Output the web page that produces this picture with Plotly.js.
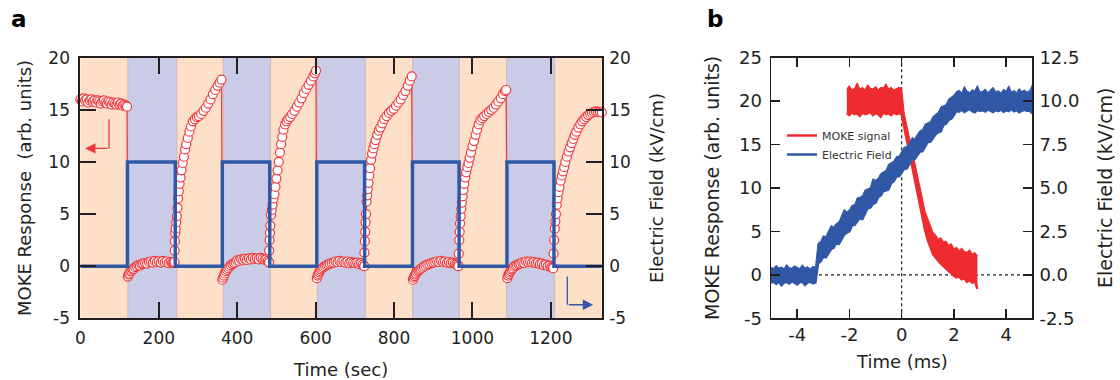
<!DOCTYPE html>
<html>
<head>
<meta charset="utf-8">
<script src="https://cdn.plot.ly/plotly-3.0.1.min.js"></script>
<style>
  html, body { margin: 0; padding: 0; background: #ffffff; }
  #chart { width: 1120px; height: 380px; }
</style>
</head>
<body>
<div id="chart"></div>
<script>
// ---------------- Panel a : MOKE response (left axis) ----------------
const flatTime = [0,4,8,12,16,20,24,28,32,36,40,44,48,52,56,60,64,68,72,76,80,84,88,92,96,100,104,108,112,116,119];
const flatMoke = [16.0,15.8,16.1,15.9,16.0,15.7,15.9,16.0,15.8,15.9,15.7,15.9,15.8,15.6,15.8,15.9,15.7,15.6,15.8,15.7,15.5,15.7,15.6,15.5,15.7,15.5,15.6,15.4,15.5,15.4,15.3];

const dip1Time = [121,123,125,127,130,133,136,140,144,148,152,156,160,165,170,175,180,185,190,195,200,205,210,215,220,225,230,234,237,239];
const dip1Moke = [-1.0,-0.8,-0.7,-0.5,-0.45,-0.3,-0.25,-0.1,0.0,0.1,0.05,0.2,0.25,0.3,0.25,0.4,0.45,0.35,0.5,0.4,0.45,0.35,0.5,0.4,0.45,0.3,0.4,0.35,0.3,0.37];
const rise1Time = [240,240.5,241,242,243,244.5,246,247.5,249,251,253,255.5,258,261,264,267,270,274,278,282,287,292,297,302,308,314,320,326,332,338,344,350,355,360];
const rise1Moke = [0.4,1.5,2.4,3.2,3.6,4.2,4.8,5.6,6.5,7.2,7.9,8.5,9.2,9.9,10.5,11.2,11.7,12.3,12.9,13.4,13.9,14.1,14.3,14.4,14.6,14.9,15.2,15.6,16.0,16.5,16.9,17.3,17.6,17.9];

const dip2Time = [362,364,366,368,371,374,377,380,384,388,392,396,400,405,410,415,420,425,430,435,440,445,450,455,460,465,470,474,478,481];
const dip2Moke = [-1.3,-1.1,-0.9,-0.7,-0.5,-0.35,-0.2,-0.05,0.1,0.2,0.3,0.4,0.55,0.5,0.65,0.6,0.7,0.6,0.75,0.65,0.8,0.7,0.75,0.65,0.8,0.7,0.6,0.65,0.5,0.37];
const rise2Time = [481,481.5,482.5,483.5,484.5,486,488,490,492.5,495,497.5,500,503,506,509,512,515,518,522,526,530,535,540,546,552,558,564,570,576,582,588,594,598,601];
const rise2Moke = [0.37,1.5,2.5,3.2,3.9,4.9,5.4,5.9,6.5,6.9,7.6,8.4,9.2,10.0,10.9,11.7,12.4,13.1,13.6,13.9,14.1,14.3,14.6,14.9,15.3,15.7,16.1,16.6,17.0,17.4,17.8,18.2,18.5,18.75];

const dip3Time = [603,605,607,609,611,614,617,620,624,628,632,636,641,646,651,656,661,666,671,676,681,686,691,696,701,706,711,716,720,724];
const dip3Moke = [-1.15,-0.9,-0.75,-0.6,-0.45,-0.3,-0.2,-0.1,0.0,0.1,0.15,0.25,0.3,0.35,0.45,0.4,0.5,0.4,0.45,0.35,0.45,0.3,0.4,0.35,0.3,0.35,0.2,0.3,0.15,0.0];
const rise3Time = [724,724.5,725.5,726.5,727.5,728.5,730,731.5,733,735,737,739,741.5,744,747,750,753,757,761,765,770,775,781,787,793,799,805,811,817,823,829,835,840,845];
const rise3Moke = [0.0,1.3,2.4,3.3,4.2,5.0,6.2,6.8,7.4,8.0,8.7,9.4,10.2,10.8,11.3,11.7,12.1,12.6,13.0,13.3,13.7,14.1,14.4,14.7,14.9,15.1,15.4,15.7,16.0,16.4,16.8,17.3,17.8,18.2];

const dip4Time = [848,850,852,854,856,859,862,865,868,872,876,880,885,890,895,900,905,910,915,920,925,930,935,940,945,950,955,959,962,964];
const dip4Moke = [-1.3,-1.1,-0.95,-0.8,-0.7,-0.55,-0.45,-0.35,-0.25,-0.15,-0.05,0.05,0.15,0.2,0.3,0.35,0.4,0.45,0.4,0.5,0.4,0.45,0.35,0.4,0.3,0.35,0.25,0.2,0.15,0.0];
const rise4Time = [964,965,966.5,967.5,968.5,970,971.5,973,975,977,979,981.5,984,987,990,993,996,1000,1004,1008,1012,1016,1020,1025,1030,1036,1042,1048,1054,1060,1066,1072,1078,1083,1086];
const rise4Moke = [0.0,1.2,2.5,3.3,4.1,4.8,5.5,6.1,6.7,7.3,7.9,8.5,9.0,9.5,9.9,10.4,10.9,11.5,12.0,12.6,13.1,13.6,14.0,14.2,14.4,14.6,14.8,15.0,15.2,15.5,15.8,16.1,16.5,16.8,16.9];

const dip5Time = [1089,1091,1093,1095,1097,1100,1103,1106,1110,1114,1118,1122,1127,1132,1137,1142,1147,1152,1157,1162,1167,1172,1177,1182,1187,1192,1197,1201,1204,1206];
const dip5Moke = [-1.15,-0.9,-0.75,-0.6,-0.45,-0.3,-0.2,-0.05,0.05,0.1,0.2,0.25,0.35,0.3,0.45,0.4,0.45,0.35,0.4,0.3,0.35,0.2,0.25,0.1,0.15,0.0,0.05,-0.1,-0.15,-0.2];
const rise5Time = [1206,1207,1208.5,1210,1211.5,1213,1215,1217,1219.5,1222,1225,1228,1231,1234,1237,1241,1245,1249,1253,1257,1261,1265,1270,1275,1280,1285,1290,1295,1300,1305,1310,1315,1320,1325,1330];
const rise5Moke = [-0.2,1.2,2.5,3.6,4.3,5.0,5.9,6.5,7.1,7.6,8.2,8.7,9.1,9.5,10.0,10.5,11.0,11.4,11.8,12.2,12.6,12.9,13.3,13.6,13.9,14.1,14.3,14.5,14.6,14.7,14.8,14.85,14.8,14.8,14.75];

// ---------------- Panel a : electric field square wave (right axis) ----------------
const fieldStepTime  = [0,120,242,362,483,603,725,847,966,1088,1208,1330];
const fieldStepValue = [0,10,0,10,0,10,0,10,0,10,0,0];

// field-on (lavender) background periods
const shadeStart = [121,364,604,847,1087];
const shadeEnd   = [246,485,727,967,1210];

// ---------------- Panel b : time traces (noise envelopes) ----------------
const redTime = [-2.1,-2.0,-1.9,-1.8,-1.7,-1.6,-1.5,-1.4,-1.3,-1.2,-1.1,-1.0,-0.9,-0.8,-0.7,-0.6,-0.5,-0.4,-0.3,-0.2,-0.1,
  0.0,0.1,0.2,0.3,0.4,0.5,0.6,0.7,0.8,0.9,1.0,1.1,1.2,1.3,1.4,1.5,1.6,1.7,1.8,1.9,2.0,2.1,2.2,2.3,2.4,2.5,2.6,2.7,2.8,2.9];
const redHigh = [21.4,21.8,21.3,21.5,22.1,21.4,21.6,21.3,21.9,21.5,21.4,21.7,21.3,21.6,21.5,22.0,21.4,21.6,21.3,21.5,21.6,
  21.5,18.6,17.2,15.8,14.2,12.8,11.2,9.8,8.5,7.3,6.5,5.6,4.9,4.6,4.1,4.3,3.8,3.9,3.4,3.6,3.0,3.2,2.8,3.1,2.7,2.6,2.9,2.4,2.6,2.2];
const redLow = [18.6,18.4,18.7,18.5,18.6,18.3,18.7,18.5,18.6,18.8,18.4,18.6,18.5,18.2,18.7,18.5,18.6,18.4,18.7,18.5,18.6,
  18.5,17.0,15.5,14.1,12.3,10.9,9.4,7.7,6.4,5.1,4.0,3.2,2.4,2.0,1.6,1.3,1.0,0.7,0.4,0.2,-0.1,-0.3,-0.2,-0.5,-0.4,-0.8,-0.6,-0.9,-0.7,-1.6];

const blueTime = [-5.0,-4.9,-4.8,-4.7,-4.6,-4.5,-4.4,-4.3,-4.2,-4.1,-4.0,-3.9,-3.8,-3.7,-3.6,-3.5,-3.4,-3.3,
  -3.2,-3.1,-3.0,-2.9,-2.8,-2.7,-2.6,-2.5,-2.4,-2.3,-2.2,-2.1,-2.0,-1.9,-1.8,-1.7,-1.6,-1.5,-1.4,-1.3,-1.2,-1.1,-1.0,
  -0.9,-0.8,-0.7,-0.6,-0.5,-0.4,-0.3,-0.2,-0.1,0.0,0.1,0.2,0.3,0.4,0.5,0.6,0.7,0.8,0.9,1.0,1.1,1.2,1.3,1.4,1.5,1.6,1.7,1.8,1.9,2.0,
  2.1,2.2,2.3,2.4,2.5,2.6,2.7,2.8,2.9,3.0,3.1,3.2,3.3,3.4,3.5,3.6,3.7,3.8,3.9,4.0,4.1,4.2,4.3,4.4,4.5,4.6,4.7,4.8,4.9,5.0];
const blueHigh = [0.42,0.38,0.55,0.40,0.45,0.36,0.60,0.41,0.39,0.52,0.44,0.37,0.58,0.40,0.46,0.35,0.50,0.43,
  1.82,1.93,2.25,2.21,2.53,2.84,2.76,2.97,3.04,3.40,3.77,3.63,3.75,4.01,4.03,4.44,4.46,4.57,4.89,4.95,5.02,5.53,5.45,
  5.56,5.83,5.94,6.01,6.37,6.44,6.55,6.82,6.83,7.10,7.36,7.38,7.59,7.91,7.82,8.09,8.30,8.37,8.68,8.75,8.81,9.13,9.24,9.36,9.67,9.74,9.80,10.12,10.23,10.35,
  10.55,10.62,10.48,10.85,10.58,10.50,10.66,10.60,10.90,10.52,10.57,10.70,10.49,10.62,10.80,10.55,10.60,10.47,10.68,10.58,10.88,10.53,10.61,10.50,10.72,10.56,10.64,10.52,10.60,10.95];
const blueLow = [-0.45,-0.40,-0.52,-0.38,-0.60,-0.44,-0.41,-0.50,-0.37,-0.47,-0.55,-0.42,-0.40,-0.58,-0.45,-0.39,-0.48,-0.44,
  0.67,0.78,1.05,1.01,1.28,1.49,1.56,1.87,1.79,2.10,2.32,2.43,2.50,2.86,2.88,3.09,3.31,3.22,3.59,3.85,3.87,4.08,4.15,
  4.46,4.58,4.84,4.86,4.92,5.29,5.40,5.67,5.68,5.90,6.11,6.13,6.39,6.66,6.67,6.89,7.10,7.12,7.38,7.65,7.66,7.88,8.09,8.21,8.27,8.64,8.70,8.92,8.98,9.20,
  9.45,9.40,9.52,9.38,9.47,9.55,9.42,9.36,9.50,9.44,9.48,9.40,9.53,9.46,9.37,9.49,9.43,9.51,9.39,9.47,9.42,9.54,9.41,9.48,9.36,9.45,9.50,9.43,9.46,9.30];

// ---------------- tick labels ----------------
const aTimeTicks = [0,200,400,600,800,1000,1200];
const aTimeLabels = ['0','200','400','600','800','1000','1200'];
const aYTicks = [-5,0,5,10,15,20];
const aYLabels = ['-5','0','5','10','15','20'];
const bTimeTicks = [-4,-2,0,2,4];
const bTimeLabels = ['-4','-2','0','2','4'];
const bMokeTicks = [-5,0,5,10,15,20,25];
const bMokeLabels = ['-5','0','5','10','15','20','25'];
const bFieldTicks = [-2.5,0,2.5,5,7.5,10,12.5];
const bFieldLabels = ['-2.5','0.0','2.5','5.0','7.5','10.0','12.5'];

// ---------------- build ----------------
const mokeTime = [].concat(flatTime, dip1Time, rise1Time, dip2Time, rise2Time, dip3Time, rise3Time, dip4Time, rise4Time, dip5Time, rise5Time);
const mokeValue = [].concat(flatMoke, dip1Moke, rise1Moke, dip2Moke, rise2Moke, dip3Moke, rise3Moke, dip4Moke, rise4Moke, dip5Moke, rise5Moke);

const RED = '#ee3a3e';
const BLUE = '#3158a7';
const INK = '#231f20';
const FONT = 'DejaVu Sans, Liberation Sans, Arial, sans-serif';

const traces = [
  { x: fieldStepTime, y: fieldStepValue, xaxis: 'x', yaxis: 'y2', mode: 'lines',
    line: { color: BLUE, width: 3.5, shape: 'hv' }, showlegend: false, hoverinfo: 'skip' },
  { x: mokeTime, y: mokeValue, xaxis: 'x', yaxis: 'y', mode: 'lines+markers', cliponaxis: false,
    line: { color: RED, width: 1.3 },
    marker: { symbol: 'circle', size: 9, color: '#ffffff', line: { color: RED, width: 1.2 } },
    showlegend: false, hoverinfo: 'skip' },
  // panel b
  { x: redTime, y: redLow, xaxis: 'x2', yaxis: 'y3', mode: 'lines', name: 'MOKE signal',
    line: { color: '#ee2b2f', width: 2.5 }, showlegend: true, hoverinfo: 'skip' },
  { x: redTime, y: redHigh, xaxis: 'x2', yaxis: 'y3', mode: 'lines', fill: 'tonexty', fillcolor: '#ee2b2f',
    line: { color: '#ee2b2f', width: 1 }, showlegend: false, hoverinfo: 'skip' },
  { x: blueTime, y: blueLow, xaxis: 'x2', yaxis: 'y4', mode: 'lines', name: 'Electric Field',
    line: { color: '#3158a7', width: 2.5 }, showlegend: true, hoverinfo: 'skip' },
  { x: blueTime, y: blueHigh, xaxis: 'x2', yaxis: 'y4', mode: 'lines', fill: 'tonexty', fillcolor: '#3158a7',
    line: { color: '#3158a7', width: 1 }, showlegend: false, hoverinfo: 'skip' }
];

const shapes = [
  { type: 'rect', xref: 'x domain', yref: 'y domain', x0: 0, x1: 1, y0: 0, y1: 1,
    fillcolor: '#fde0c7', line: { width: 0 }, layer: 'below' }
];
shadeStart.forEach((s, i) => {
  shapes.push({ type: 'rect', xref: 'x', yref: 'y domain', x0: s, x1: shadeEnd[i], y0: 0, y1: 1,
    fillcolor: '#cacce7', line: { width: 0 }, layer: 'below' });
  [s, shadeEnd[i]].forEach(b => shapes.push({ type: 'line', xref: 'x', yref: 'y domain', x0: b, x1: b, y0: 0, y1: 1,
    line: { color: 'rgba(200,160,170,0.55)', width: 1 }, layer: 'below' }));
});
// bent legend arrows in panel a (vertical legs)
shapes.push({ type: 'line', xref: 'x', yref: 'y', x0: 73, x1: 73, y0: 14.1, y1: 11.3, line: { color: RED, width: 1.3 } });
shapes.push({ type: 'line', xref: 'x', yref: 'y', x0: 1242, x1: 1242, y0: -1.0, y1: -3.7, line: { color: BLUE, width: 1.3 } });
// panel b zero reference lines
shapes.push({ type: 'line', xref: 'x2 domain', yref: 'y3', x0: 0, x1: 1, y0: 0, y1: 0,
  line: { color: '#222', width: 1.2, dash: 'dot' }, layer: 'below' });
shapes.push({ type: 'line', xref: 'x2', yref: 'y3 domain', x0: 0, x1: 0, y0: 0, y1: 1,
  line: { color: '#222', width: 1.2, dash: 'dot' }, layer: 'below' });

const W = 1120, H = 380;
const midY = 1 - ((57.7 + 318.3) / 2) / H;
function axTitle(text, px, py, size, angle) {
  return { xref: 'paper', yref: 'paper', x: px / W, y: 1 - py / H, xanchor: 'center', yanchor: 'middle',
    showarrow: false, text: text, textangle: angle, font: { family: FONT, size: size, color: INK } };
}

const annotations = [
  { xref: 'x', yref: 'y', x: 12, y: 11.3, ax: 73, ay: 11.3, axref: 'x', ayref: 'y', text: '',
    showarrow: true, arrowhead: 2, arrowsize: 1.6, arrowwidth: 1.3, arrowcolor: RED },
  { xref: 'x', yref: 'y', x: 1308, y: -3.7, ax: 1242, ay: -3.7, axref: 'x', ayref: 'y', text: '',
    showarrow: true, arrowhead: 2, arrowsize: 1.6, arrowwidth: 1.3, arrowcolor: BLUE },
  { xref: 'paper', yref: 'paper', x: 9 / W, y: 1 - 4 / H, xanchor: 'left', yanchor: 'top', showarrow: false,
    text: '<b>a</b>', font: { family: FONT, size: 23, color: '#000' } },
  { xref: 'paper', yref: 'paper', x: 705 / W, y: 1 - 4 / H, xanchor: 'left', yanchor: 'top', showarrow: false,
    text: '<b>b</b>', font: { family: FONT, size: 23, color: '#000' } },
  // axis titles
  axTitle('MOKE Response\u00a0 (arb. units)', 24, 188, 18, -90),
  axTitle('Electric Field (kV/cm)', 656, 188, 18, -90),
  axTitle('Time (sec)', 341, 369, 18, 0),
  axTitle('MOKE Response (arb. units)', 712, 188, 19, -90),
  axTitle('Electric Field (kV/cm)', 1105, 188, 19, -90),
  axTitle('Time (ms)', 901.5, 361, 18, 0)
];

const yDom = [1 - 318.3 / H, 1 - 57.7 / H];

function axisBase(len, w, fs) {
  return { showgrid: false, zeroline: false, showline: true, linecolor: INK, linewidth: w,
    ticks: 'inside', ticklen: len, tickwidth: w, tickcolor: INK, automargin: false,
    tickfont: { family: FONT, size: fs, color: INK }, fixedrange: true };
}

const layout = {
  width: W, height: H,
  margin: { l: 0, r: 0, t: 0, b: 0, pad: 0 },
  paper_bgcolor: '#ffffff', plot_bgcolor: '#ffffff',
  font: { family: FONT, color: INK },
  showlegend: true,
  legend: { x: 782 / W, y: 1 - 121 / H, xanchor: 'left', yanchor: 'top', bgcolor: 'rgba(0,0,0,0)',
    traceorder: 'normal',
    font: { family: FONT, size: 11, color: '#333' }, itemwidth: 30, tracegroupgap: 0 },
  xaxis: Object.assign(axisBase(16, 2, 17), {
    domain: [80.4 / W, 601.8 / W], range: [0, 1330], anchor: 'y', mirror: 'ticks',
    tickmode: 'array', tickvals: aTimeTicks, ticktext: aTimeLabels, ticklabelstandoff: 3 }),
  yaxis: Object.assign(axisBase(16, 2, 17), {
    domain: yDom, range: [-5, 20], anchor: 'x', ticklabelstandoff: 5,
    tickmode: 'array', tickvals: aYTicks, ticktext: aYLabels }),
  yaxis2: Object.assign(axisBase(16, 2, 17), {
    domain: yDom, range: [-5, 20], anchor: 'x', overlaying: 'y', side: 'right', ticklabelstandoff: 2,
    tickmode: 'array', tickvals: aYTicks, ticktext: aYLabels }),
  xaxis2: Object.assign(axisBase(9, 1.5, 18), {
    domain: [771 / W, 1032.3 / W], range: [-5, 5], anchor: 'y3', mirror: 'ticks',
    tickmode: 'array', tickvals: bTimeTicks, ticktext: bTimeLabels }),
  yaxis3: Object.assign(axisBase(9, 1.5, 18), {
    domain: yDom, range: [-5, 25], anchor: 'x2', ticklabelstandoff: 4,
    tickmode: 'array', tickvals: bMokeTicks, ticktext: bMokeLabels }),
  yaxis4: Object.assign(axisBase(9, 1.5, 18), {
    domain: yDom, range: [-2.5, 12.5], anchor: 'x2', overlaying: 'y3', side: 'right', ticklabelstandoff: 2,
    tickmode: 'array', tickvals: bFieldTicks, ticktext: bFieldLabels }),
  shapes: shapes,
  annotations: annotations
};

Plotly.newPlot('chart', traces, layout, { displayModeBar: false, staticPlot: true });
</script>
</body>
</html>
